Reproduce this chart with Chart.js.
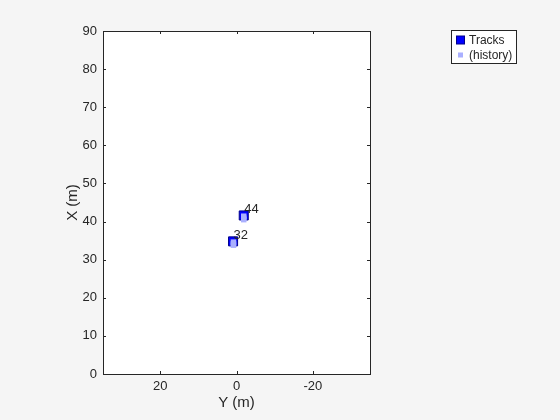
<!DOCTYPE html>
<html>
<head>
<meta charset="utf-8">
<script src="https://cdn.jsdelivr.net/npm/chart.js@4.4.1/dist/chart.umd.min.js"></script>
<style>
  html, body { margin: 0; padding: 0; background: #f5f5f5; }
  #wrap { width: 560px; height: 420px; }
</style>
</head>
<body>
<div id="wrap"><canvas id="chart" width="560" height="420"></canvas></div>
<script>
// Current track positions: lateral Y (m) and longitudinal X (m)
const trackIds = ['32', '44'];
const trackY = [0.9, -1.9];
const trackX = [34.8, 41.6];

// Earlier positions of the same tracks
const historyY = [0.8, 0.8, 0.8, -1.9, -1.9, -1.9];
const historyX = [34.6, 34.2, 33.8, 41.4, 40.9, 40.5];

const legendLabels = ['Tracks', '(history)'];
const yAxisTicks = [20, 0, -20];           // horizontal axis, reversed
const xAxisTicks = [0, 10, 20, 30, 40, 50, 60, 70, 80, 90];

const AXIS_COLOR = '#262626';
const FONT = 'Arial, "Liberation Sans", Helvetica, sans-serif';

// background, white plot box, frame, inward ticks, point labels, legend
const decorations = {
    id: 'decorations',
    beforeDraw(chart) {
        const { ctx, chartArea: a } = chart;
        ctx.save();
        ctx.fillStyle = '#f5f5f5';
        ctx.fillRect(0, 0, chart.width, chart.height);
        ctx.fillStyle = '#ffffff';
        ctx.fillRect(a.left, a.top, a.right - a.left, a.bottom - a.top);
        ctx.restore();
    },
    afterDatasetsDraw(chart) {
        const { ctx, chartArea: a, scales } = chart;
        ctx.save();
        ctx.strokeStyle = AXIS_COLOR;
        ctx.lineWidth = 1;
        ctx.strokeRect(Math.round(a.left) + 0.5, Math.round(a.top) + 0.5,
            Math.round(a.right - a.left), Math.round(a.bottom - a.top));

        const tl = 3;
        ctx.beginPath();
        scales.x.ticks.forEach(t => {
            const px = Math.round(scales.x.getPixelForValue(t.value)) + 0.5;
            ctx.moveTo(px, a.bottom); ctx.lineTo(px, a.bottom - tl);
            ctx.moveTo(px, a.top); ctx.lineTo(px, a.top + tl);
        });
        scales.y.ticks.forEach(t => {
            const py = Math.round(scales.y.getPixelForValue(t.value)) + 0.5;
            ctx.moveTo(a.left, py); ctx.lineTo(a.left + tl, py);
            ctx.moveTo(a.right, py); ctx.lineTo(a.right - tl, py);
        });
        ctx.stroke();

        // track id labels
        const meta = chart.getDatasetMeta(0);
        ctx.fillStyle = AXIS_COLOR;
        ctx.font = '13px ' + FONT;
        ctx.textAlign = 'left';
        ctx.textBaseline = 'alphabetic';
        meta.data.forEach((pt, i) => {
            ctx.fillText(trackIds[i], pt.x + 0.5, pt.y - 2.5);
        });

        // legend
        const lx = 451.5, ly = 30.5, lw = 65, lh = 33;
        ctx.fillStyle = '#ffffff';
        ctx.fillRect(lx, ly, lw, lh);
        ctx.strokeStyle = AXIS_COLOR;
        ctx.strokeRect(lx, ly, lw, lh);
        ctx.font = '12px ' + FONT;
        ctx.textBaseline = 'middle';
        chart.data.datasets.forEach((ds, i) => {
            const cy = ly + 9.5 + i * 15;
            const s = i === 0 ? 4 : 2.5;
            const cx = lx + 9;
            ctx.fillStyle = ds.backgroundColor;
            ctx.fillRect(cx - s, cy - s, 2 * s, 2 * s);
            if (ds.borderWidth) {
                ctx.strokeStyle = ds.borderColor;
                ctx.strokeRect(cx - s, cy - s, 2 * s, 2 * s);
            }
            ctx.fillStyle = AXIS_COLOR;
            ctx.fillText(legendLabels[i], lx + 17.5, cy + 0.5);
        });
        ctx.restore();
    }
};

const ctx = document.getElementById('chart').getContext('2d');
new Chart(ctx, {
    type: 'scatter',
    data: {
        datasets: [{
            label: legendLabels[0],
            data: trackY.map((y, i) => ({ x: y, y: trackX[i] })),
            pointStyle: 'rect',
            pointRadius: 6.4,
            backgroundColor: '#0000ff',
            borderColor: '#00008b',
            borderWidth: 1,
            order: 2
        }, {
            label: legendLabels[1],
            data: historyY.map((y, i) => ({ x: y, y: historyX[i] })),
            pointStyle: 'rect',
            pointRadius: 3.9,
            backgroundColor: '#aab0ff',
            borderWidth: 0,
            order: 1
        }]
    },
    options: {
        responsive: false,
        animation: false,
        layout: { padding: { left: 60, top: 31, right: 190, bottom: 0 } },
        plugins: {
            legend: { display: false },
            tooltip: { enabled: false }
        },
        scales: {
            x: {
                type: 'linear',
                position: 'bottom',
                reverse: true,
                min: -35,
                max: 35,
                afterBuildTicks: s => { s.ticks = yAxisTicks.map(v => ({ value: v })); },
                afterFit: s => { s.height = 46; },
                grid: { drawOnChartArea: false, drawTicks: false },
                border: { display: false },
                ticks: { color: AXIS_COLOR, font: { family: FONT, size: 13 }, padding: 5 },
                title: {
                    display: true, text: 'Y (m)', color: AXIS_COLOR,
                    font: { family: FONT, size: 15 }, padding: { top: 4, bottom: 8 }
                }
            },
            y: {
                type: 'linear',
                min: 0,
                max: 90,
                afterBuildTicks: s => { s.ticks = xAxisTicks.map(v => ({ value: v })); },
                afterFit: s => { s.width = 43; },
                grid: { drawOnChartArea: false, drawTicks: false },
                border: { display: false },
                ticks: { color: AXIS_COLOR, font: { family: FONT, size: 13 }, padding: 6 },
                title: {
                    display: true, text: 'X (m)', color: AXIS_COLOR,
                    font: { family: FONT, size: 15 }, padding: { top: 4, bottom: 4 }
                }
            }
        }
    },
    plugins: [decorations]
});
</script>
</body>
</html>
